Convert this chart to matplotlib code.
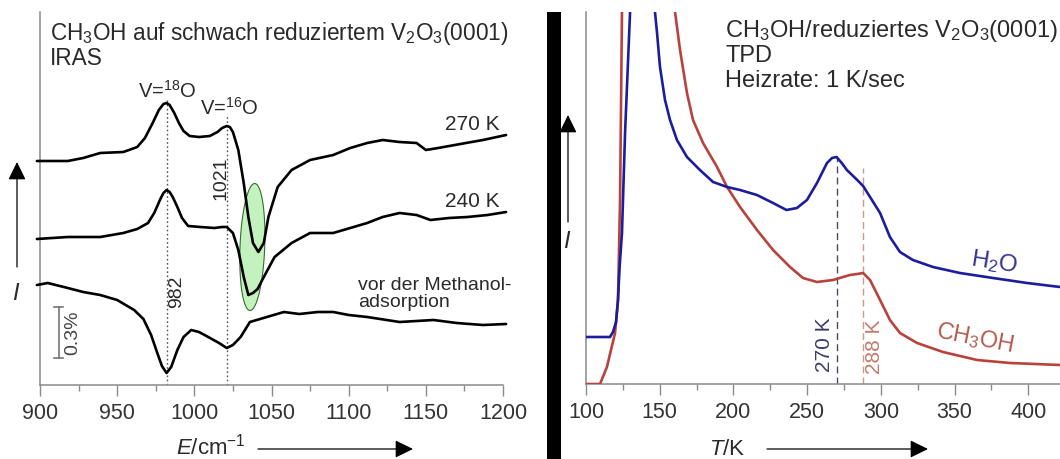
import matplotlib
matplotlib.use("Agg")
import matplotlib.pyplot as plt
from matplotlib.patches import FancyArrowPatch, Rectangle
import numpy as np

plt.rcParams['font.family'] = ['Liberation Sans', 'DejaVu Sans']
plt.rcParams['mathtext.fontset'] = 'custom'
plt.rcParams['mathtext.rm'] = 'Liberation Sans'
plt.rcParams['mathtext.it'] = 'Liberation Sans:italic'
plt.rcParams['mathtext.default'] = 'regular'

# ---------------- data: IRAS (left) ----------------
E_270 = [898, 907, 918, 928, 939, 954, 963, 968, 973, 977, 980, 982, 984, 987, 990, 993, 997,
         1003, 1010, 1015, 1018, 1021, 1023, 1025, 1028.5, 1032, 1035, 1038, 1041.5, 1045,
         1048, 1054, 1063, 1075, 1090, 1101, 1112, 1122, 1133, 1144, 1150, 1158, 1176, 1187, 1202]
I_270 = [224, 224, 224, 227, 232, 233, 238, 247, 262, 275, 281, 282, 280, 272, 262, 254, 249,
         248, 249, 253, 257, 259, 258, 253, 235, 202, 168, 142, 133, 142,
         168, 198, 215, 225, 230, 237, 242, 245, 243, 242, 235, 237, 242, 245, 250]

E_240 = [898, 918, 939, 954, 963, 970, 974, 978, 980, 982, 984, 986, 989, 992, 996, 1004,
         1013, 1018, 1021, 1025, 1028.5, 1032, 1035, 1038, 1041, 1045, 1052, 1063, 1075,
         1090, 1101, 1112, 1122, 1133, 1144, 1153, 1165, 1177, 1190, 1202]
I_240 = [146, 148, 148, 152, 156, 162, 172, 186, 192, 195, 193, 188, 178, 167, 159, 158,
         157, 158, 158, 152, 135, 108, 90, 92, 96, 108, 128, 142, 152,
         152, 157, 162, 168, 172, 170, 165, 167, 168, 170, 173]

E_pre = [898, 905, 918, 928, 939, 950, 961, 967, 972, 976, 979, 982, 985, 989, 993, 998,
         1003, 1009, 1016, 1021, 1025, 1030, 1036, 1047, 1058, 1068, 1080, 1090, 1100, 1112,
         1133, 1155, 1170, 1187, 1202]
I_pre = [100, 102, 97, 93, 90, 85, 75, 66, 50, 32, 19, 12, 18, 35, 48, 55,
         53, 48, 42, 37, 40, 48, 63, 68, 73, 71, 73, 73, 70, 68,
         63, 65, 62, 60, 61]

iras_peaks = [982, 1021]
iras_peak_top = [285, 270]
iras_xticks = [900, 950, 1000, 1050, 1100, 1150, 1200]

# ---------------- data: TPD (right) ----------------
T_h2o = [100, 110, 116.3, 118.3, 120.4, 121.7, 122.8, 124.4, 126.5, 129.9, 133, 140, 145,
         146.8, 148.2, 150.2, 153.6, 157.0, 161.7, 168.5, 177.3, 186.2, 195.7, 204.5, 216.0,
         226.9, 236.0, 243.1, 249.9, 256.7, 263.5, 266.9, 270, 273.5, 277, 280.5, 284, 288,
         292.7, 299.5, 306.2, 313.0, 321.8, 335.4, 353.7, 376.1, 399.2, 421.6]
I_h2o = [47, 47, 47, 52, 62, 84, 117, 151, 251, 372, 480, 560, 470,
         372, 351, 317, 284, 264, 244, 227, 214, 202, 197, 194, 189,
         181, 174, 176, 184, 201, 221, 226, 227, 221, 214, 209, 204, 198,
         187, 171, 147, 132, 124, 117, 111, 106, 101, 97]

T_ch3oh = [100, 109.5, 114.2, 119.7, 121.7, 123.1, 124.4, 128, 145, 156, 160.4, 163.8, 168.5,
           172.6, 179.4, 188.9, 195.7, 204.5, 216.0, 226.9, 238.4, 247.2, 256.7, 267.6, 279,
           284, 288, 292.7, 299.5, 306.2, 313.0, 324.6, 342.2, 365.3, 387.7, 421.6]
I_ch3oh = [0, 0, 17, 51, 84, 184, 372, 600, 650, 480, 372, 334, 291,
           264, 241, 217, 197, 177, 154, 134, 117, 106, 102, 104, 109,
           110, 111, 104, 84, 64, 51, 41, 32, 24, 21, 19]

tpd_peaks = [270, 288]
tpd_peak_top = [227, 216]
tpd_xticks = [100, 150, 200, 250, 300, 350, 400]

# ---------------- figure ----------------
W, H = 1060, 459
fig = plt.figure(figsize=(W / 100, H / 100), dpi=100)


def P(x, y):
    return (x / W, 1 - y / H)


spine_c = '#8a8a8a'
tick_c = '#333333'
txt_c = '#2a2a2a'

axL = fig.add_axes([40 / W, (H - 385) / H, 463 / W, 373 / H])
axR = fig.add_axes([586 / W, (H - 384) / H, 474 / W, 372 / H])

for ax in (axL, axR):
    for s in ('top', 'right'):
        ax.spines[s].set_visible(False)
    for s in ('left', 'bottom'):
        ax.spines[s].set_color(spine_c)
        ax.spines[s].set_linewidth(1.1)
    ax.set_yticks([])
    ax.tick_params(axis='x', which='major', direction='out', length=8, width=1,
                   color=spine_c, labelsize=15.5, labelcolor=tick_c, pad=5)
    ax.tick_params(axis='x', which='minor', direction='out', length=4.5, width=1,
                   color=spine_c)
    ax.patch.set_alpha(0)

# left panel
axL.set_xlim(900, 1200)
axL.set_ylim(0, 373)
axL.set_xticks(iras_xticks)
axL.set_xticks(np.arange(925, 1200, 50), minor=True)

# green ellipse (highlight)
ell_c, ell_i, ell_a, ell_b, ell_s = 1037.6, 138, 8.0, 63.5, 1.5
t = np.linspace(0, 2 * np.pi, 200)
axL.fill(ell_c + ell_a * np.cos(t) + ell_s * np.sin(t), ell_i + ell_b * np.sin(t),
         facecolor='#c4f2bf', edgecolor='#2f6e2f', lw=0.8, zorder=1)

for x, top in zip(iras_peaks, iras_peak_top):
    axL.plot([x, x], [0, top], color='#555555', lw=1.0, ls=(0, (1.2, 1.8)), zorder=2)

for E, I in ((E_270, I_270), (E_240, I_240), (E_pre, I_pre)):
    axL.plot(E, I, color='black', lw=1.9, zorder=3, clip_on=False,
             solid_joinstyle='round', solid_capstyle='round')

# scale bar 0.3 %
sb_x, sb_lo, sb_hi = 912, 27, 78
axL.plot([sb_x, sb_x], [sb_lo, sb_hi], color='#777777', lw=1.2)
axL.plot([sb_x - 3, sb_x + 3], [sb_lo, sb_lo], color='#777777', lw=1.2)
axL.plot([sb_x - 3, sb_x + 3], [sb_hi, sb_hi], color='#777777', lw=1.2)

# right panel
axR.set_xlim(100, 100 + 474 / 1.474)
axR.set_ylim(0, 372)
axR.set_xticks(tpd_xticks)
axR.set_xticks(np.arange(125, 421, 50), minor=True)

axR.plot([tpd_peaks[0]] * 2, [0, tpd_peak_top[0]], color='#4a4a66', lw=1.0,
         ls=(0, (5, 3)), zorder=2)
axR.plot([tpd_peaks[1]] * 2, [0, tpd_peak_top[1]], color='#d4968a', lw=1.0,
         ls=(0, (5, 3)), zorder=2)
axR.plot(T_ch3oh, I_ch3oh, color='#b8423c', lw=1.9, zorder=3, solid_joinstyle='round')
axR.plot(T_h2o, I_h2o, color='#1c1c9e', lw=1.9, zorder=4, solid_joinstyle='round')

# ---------------- texts ----------------
fig.text(*P(50, 40), r'CH$_3$OH auf schwach reduziertem V$_2$O$_3$(0001)', fontsize=16.3,
         color=txt_c, ha='left', va='baseline')
fig.text(*P(50, 65), 'IRAS', fontsize=16.3, color=txt_c, ha='left', va='baseline')
fig.text(*P(167, 98), r'V=$^{18}$O', fontsize=14.5, color=txt_c, ha='center', va='baseline')
fig.text(*P(229, 115), r'V=$^{16}$O', fontsize=14.5, color=txt_c, ha='center', va='baseline')
fig.text(*P(500, 130), '270 K', fontsize=15, color=txt_c, ha='right', va='baseline')
fig.text(*P(500, 207), '240 K', fontsize=15, color=txt_c, ha='right', va='baseline')
fig.text(*P(221, 178), '1021', fontsize=14, color=txt_c, rotation=90, ha='center', va='center')
fig.text(*P(177, 292), '982', fontsize=14, color=txt_c, rotation=90, ha='center', va='center')
fig.text(*P(358, 290), 'vor der Methanol-', fontsize=14, color=txt_c, ha='left', va='baseline')
fig.text(*P(358, 307), 'adsorption', fontsize=14, color=txt_c, ha='left', va='baseline')
fig.text(*P(73, 333), '0.3%', fontsize=14, color='#444444', rotation=90, ha='center', va='center')

fig.text(*P(725, 37), r'CH$_3$OH/reduziertes V$_2$O$_3$(0001)', fontsize=17, color=txt_c,
         ha='left', va='baseline')
fig.text(*P(725, 62), 'TPD', fontsize=17, color=txt_c, ha='left', va='baseline')
fig.text(*P(725, 87), 'Heizrate: 1 K/sec', fontsize=17, color=txt_c, ha='left', va='baseline')
fig.text(*P(825, 345), '270 K', fontsize=15, color='#3c3c6c', rotation=90, ha='center', va='center')
fig.text(*P(875, 347), '288 K', fontsize=15, color='#c47a6c', rotation=90, ha='center', va='center')
fig.text(*P(994, 262), r'H$_2$O', fontsize=17.5, color='#34348e', rotation=-9, ha='center', va='center')
fig.text(*P(975, 338), r'CH$_3$OH', fontsize=16.8, color='#b45a4c', rotation=-11, ha='center', va='center')

# axis labels
fig.text(*P(211, 455), r'$\mathit{E}$/cm$^{-1}$', fontsize=16, color=txt_c, ha='center', va='baseline')
fig.text(*P(727, 455), r'$\mathit{T}$/K', fontsize=16, color=txt_c, ha='center', va='baseline')
fig.text(*P(15, 293), 'I', fontsize=17, color=txt_c, style='italic', ha='center', va='center')
fig.text(*P(566, 242), 'I', fontsize=17, color=txt_c, style='italic', ha='center', va='center')


def arrow(p0, p1):
    fig.add_artist(FancyArrowPatch(P(*p0), P(*p1), transform=fig.transFigure,
                                   arrowstyle='-|>,head_length=0.55,head_width=0.27',
                                   mutation_scale=20, lw=0.9, color='black',
                                   shrinkA=0, shrinkB=0))


arrow((258, 449), (413, 449))
arrow((767, 449), (928, 449))
arrow((17, 267), (17, 162))
arrow((568, 222), (568, 115))

# black separator bar
fig.add_artist(Rectangle(P(547, 459), 14 / W, 447 / H, transform=fig.transFigure,
                         facecolor='black', edgecolor='none'))

fig.savefig('out.png', dpi=100)
